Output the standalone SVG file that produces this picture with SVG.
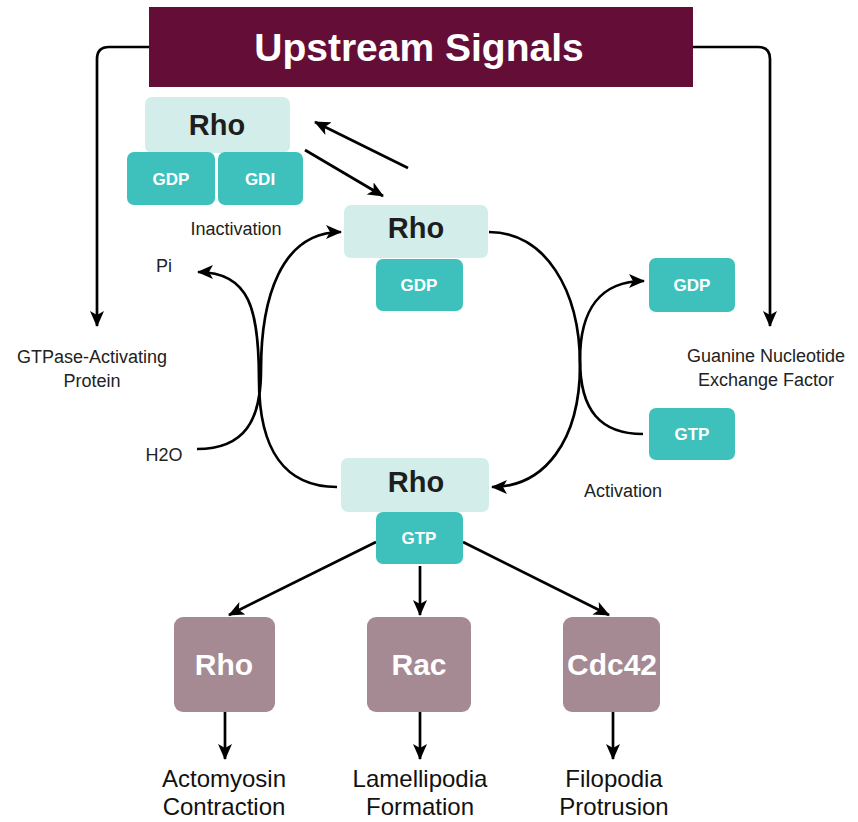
<svg xmlns="http://www.w3.org/2000/svg" width="858" height="822" viewBox="0 0 858 822">
<style>
text{font-family:"Liberation Sans",Arial,Helvetica,sans-serif;}
.lt{fill:#d3eeea;}
.tl{fill:#3ec1bd;}
.pu{fill:#a58a93;}
.big{font-size:29px;font-weight:bold;fill:#1e1e1e;text-anchor:middle;}
.sm{font-size:17px;font-weight:bold;fill:#fff;text-anchor:middle;}
.pt{font-size:30px;font-weight:bold;fill:#fff;text-anchor:middle;}
.lab{font-size:18px;fill:#222;text-anchor:middle;}
.out{font-size:24px;fill:#111;text-anchor:middle;}
.c{fill:none;stroke:#000;stroke-width:2.7;marker-end:url(#ah);}
</style>
<defs>
<marker id="ah" viewBox="0 0 16 14" refX="15" refY="7" markerWidth="16" markerHeight="14" markerUnits="userSpaceOnUse" orient="auto">
<path d="M0,0 L16,7 L0,14 L4,7 z" fill="#000"/>
</marker>
</defs>
<rect width="858" height="822" fill="#fff"/>
<g id="connectors">
<path class="c" d="M149,47 H109 Q97,47 97,59 V326"/>
<path class="c" d="M693,47 H758 Q770,47 770,59 V326"/>
<path class="c" d="M408,168 L315,122"/>
<path class="c" d="M305,150 L383,196"/>
<path class="c" d="M197,449 C245,449 261,420 261,370 C261,300 280,232 341,232"/>
<path class="c" d="M337,487 C285,487 259,450 259,380 C259,310 250,272 198,272"/>
<path class="c" d="M489,232 C545,232 580,290 580,365 C580,440 545,487 492,487"/>
<path class="c" d="M643,434 C600,434 580,410 580,360 C580,310 600,281 644,281"/>
<path class="c" d="M376,542 L229,615"/>
<path class="c" d="M420,566 L420,615"/>
<path class="c" d="M463,542 L609,615"/>
<path class="c" d="M225,712 L225,759"/>
<path class="c" d="M420,712 L420,759"/>
<path class="c" d="M613,712 L613,759"/>
</g>
<g id="upstream">
<rect x="149" y="7" width="544" height="80" fill="#640d37"/>
<text x="419" y="61" font-size="39" font-weight="bold" fill="#fff" text-anchor="middle">Upstream Signals</text>
</g>
<g id="rho-gdi">
<rect class="lt" x="145" y="97" width="145" height="56" rx="7"/>
<text class="big" x="217" y="135">Rho</text>
<rect class="tl" x="127" y="152" width="88" height="53" rx="7"/>
<text class="sm" x="171" y="185">GDP</text>
<rect class="tl" x="218" y="152" width="85" height="53" rx="7"/>
<text class="sm" x="260" y="185">GDI</text>
</g>
<g id="rho-gdp">
<rect class="lt" x="344" y="205" width="144" height="53" rx="7"/>
<text class="big" x="416" y="238">Rho</text>
<rect class="tl" x="376" y="259" width="87" height="52" rx="7"/>
<text class="sm" x="419" y="291">GDP</text>
</g>
<g id="rho-gtp">
<rect class="lt" x="341" y="458" width="148" height="54" rx="7"/>
<text class="big" x="416" y="492">Rho</text>
<rect class="tl" x="376" y="512" width="87" height="52" rx="7"/>
<text class="sm" x="419" y="544">GTP</text>
</g>
<g id="gdp-free">
<rect class="tl" x="649" y="258" width="86" height="54" rx="7"/>
<text class="sm" x="692" y="291">GDP</text>
</g>
<g id="gtp-free">
<rect class="tl" x="649" y="408" width="86" height="52" rx="7"/>
<text class="sm" x="692" y="440">GTP</text>
</g>
<g id="labels">
<text class="lab" x="236" y="235">Inactivation</text>
<text class="lab" x="164" y="272">Pi</text>
<text class="lab" x="164" y="461">H2O</text>
<text class="lab" x="92" y="363">GTPase-Activating</text>
<text class="lab" x="92" y="387">Protein</text>
<text class="lab" x="766" y="362">Guanine Nucleotide</text>
<text class="lab" x="766" y="386">Exchange Factor</text>
<text class="lab" x="623" y="497">Activation</text>
</g>
<g id="rho-eff">
<rect class="pu" x="174" y="617" width="101" height="95" rx="9"/>
<text class="pt" x="224" y="675">Rho</text>
</g>
<g id="rac-eff">
<rect class="pu" x="367" y="617" width="104" height="95" rx="9"/>
<text class="pt" x="419" y="675">Rac</text>
</g>
<g id="cdc42-eff">
<rect class="pu" x="563" y="617" width="97" height="95" rx="9"/>
<text class="pt" x="612" y="675">Cdc42</text>
</g>
<g id="outcomes">
<text class="out" x="224" y="787">Actomyosin</text>
<text class="out" x="224" y="815">Contraction</text>
<text class="out" x="420" y="787">Lamellipodia</text>
<text class="out" x="420" y="815">Formation</text>
<text class="out" x="614" y="787">Filopodia</text>
<text class="out" x="614" y="815">Protrusion</text>
</g>
</svg>
